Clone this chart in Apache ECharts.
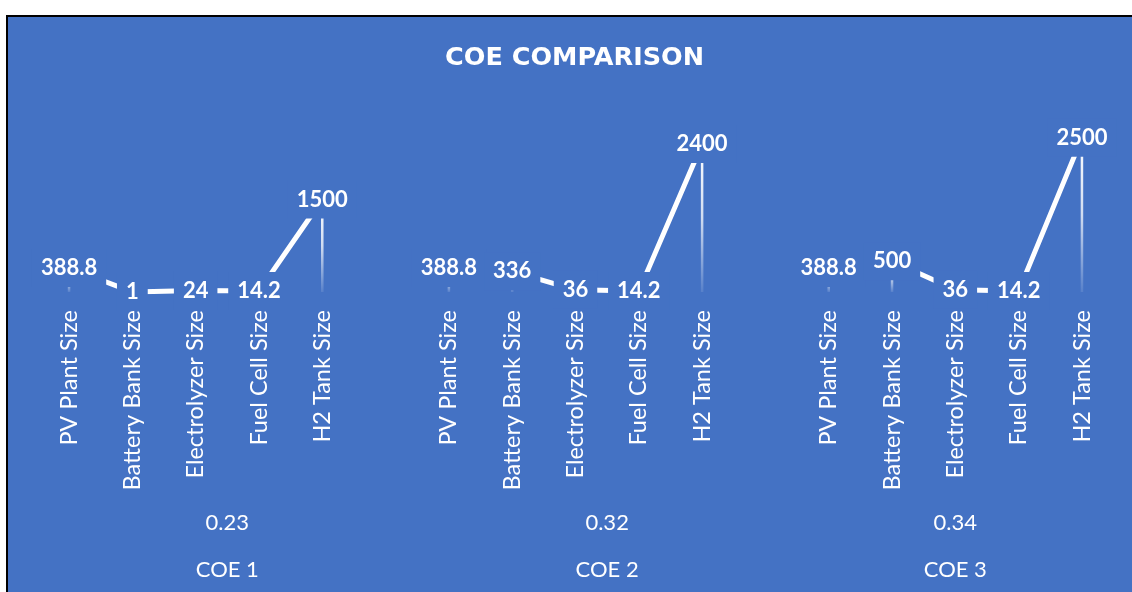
<!DOCTYPE html>
<html>
<head>
<meta charset="utf-8">
<script src="https://cdn.jsdelivr.net/npm/echarts@6/dist/echarts.min.js"></script>
<style>
  html, body { margin: 0; padding: 0; background: #ffffff; }
  #chart { width: 1132px; height: 592px; }
</style>
</head>
<body>
<div id="chart"></div>
<script>
// ---- data ----
var categories = [
  'PV Plant Size', 'Battery Bank Size', 'Electrolyzer Size', 'Fuel Cell Size', 'H2 Tank Size', '',
  'PV Plant Size', 'Battery Bank Size', 'Electrolyzer Size', 'Fuel Cell Size', 'H2 Tank Size', '',
  'PV Plant Size', 'Battery Bank Size', 'Electrolyzer Size', 'Fuel Cell Size', 'H2 Tank Size'
];
var coe1Values = [388.8, 1, 24, 14.2, 1500];
var coe2Values = [388.8, 336, 36, 14.2, 2400];
var coe3Values = [388.8, 500, 36, 14.2, 2500];
var coeValueLabels = ['0.23', '0.32', '0.34'];
var coeGroupLabels = ['COE 1', 'COE 2', 'COE 3'];
var groupCenters = [2.5, 8.5, 14];

var seriesValues = coe1Values.concat(['-'], coe2Values, ['-'], coe3Values);

var BLUE = '#4472C4';
var chart = echarts.init(document.getElementById('chart'), null, { renderer: 'canvas' });

function groupAxis(labels, margin) {
  return {
    type: 'value', position: 'bottom', min: -0.5, max: 16.5,
    axisLine: { show: false }, axisTick: { show: false }, splitLine: { show: false },
    axisLabel: {
      show: true, customValues: groupCenters, margin: margin,
      verticalAlign: 'middle', color: '#ffffff', fontFamily: 'Lato', fontSize: 22,
      formatter: function (v) {
        for (var i = 0; i < groupCenters.length; i++) {
          if (Math.abs(groupCenters[i] - v) < 1e-6) return labels[i];
        }
        return '';
      }
    }
  };
}

chart.setOption({
  backgroundColor: '#ffffff',
  animation: false,
  graphic: [{
    type: 'rect', z: -10, silent: true,
    shape: { x: 7, y: 16, width: 1300, height: 800 },
    style: { fill: BLUE, stroke: '#000000', lineWidth: 2 }
  }],
  title: {
    text: 'COE COMPARISON', left: 440, top: 40,
    textStyle: { color: '#ffffff', fontFamily: 'DejaVu Sans', fontWeight: 'bold', fontSize: 25.5 }
  },
  grid: { left: 37.4, right: 18.4, top: 107, bottom: 300, containLabel: false },
  xAxis: [
    {
      type: 'category', data: categories, boundaryGap: true, position: 'bottom',
      axisLine: { show: false }, axisTick: { show: false }, splitLine: { show: false },
      axisLabel: { interval: 0, rotate: 90, margin: 18, color: '#ffffff', fontFamily: 'Lato', fontSize: 23.5 }
    },
    groupAxis(coeValueLabels, 231),
    groupAxis(coeGroupLabels, 278)
  ],
  yAxis: { type: 'value', min: 0, max: 3000, show: false, splitLine: { show: false } },
  series: [
    {
      type: 'bar', xAxisIndex: 0, data: seriesValues, barWidth: 2.5, z: 2, silent: true,
      itemStyle: {
        color: new echarts.graphic.LinearGradient(0, 0, 0, 1, [
          { offset: 0, color: 'rgba(255,255,255,1)' },
          { offset: 0.5, color: 'rgba(255,255,255,0.75)' },
          { offset: 1, color: 'rgba(255,255,255,0.1)' }
        ])
      }
    },
    {
      type: 'line', xAxisIndex: 0, data: seriesValues, z: 3, connectNulls: false,
      symbol: 'circle', symbolSize: 2, showSymbol: true,
      itemStyle: { color: '#ffffff' },
      lineStyle: { color: '#ffffff', width: 5 },
      label: {
        show: true, position: 'inside', color: '#ffffff', fontFamily: 'Lato',
        fontWeight: 'bold', fontSize: 22, backgroundColor: BLUE, padding: [6, 9], lineHeight: 26
      }
    }
  ]
});
</script>
</body>
</html>
